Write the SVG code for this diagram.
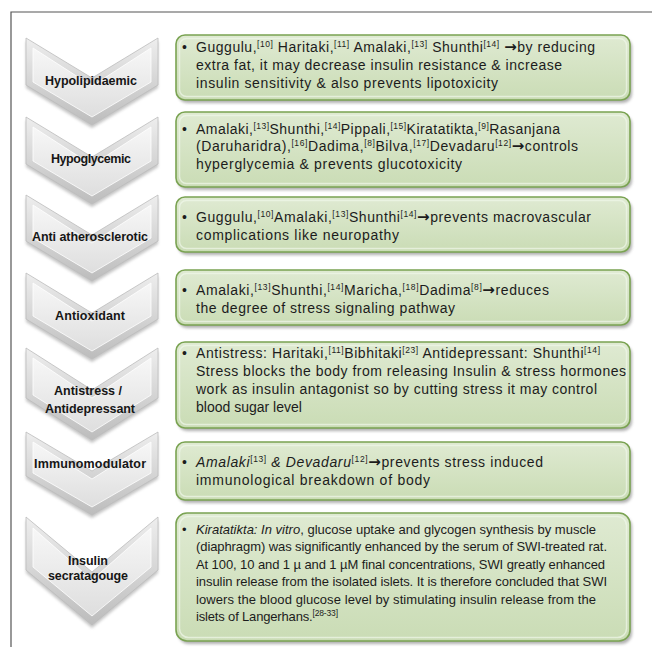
<svg xmlns="http://www.w3.org/2000/svg" width="652" height="647" viewBox="0 0 652 647">
<style>
.t{font-family:"Liberation Sans",Arial,sans-serif;font-size:14px;fill:#1c1c1c}
.t7{font-family:"Liberation Sans",Arial,sans-serif;font-size:13px;fill:#1c1c1c}
.s{font-size:8.5px}
.i{font-style:italic}
.ar{font-family:"DejaVu Sans",sans-serif;font-weight:bold;font-size:15px}
.lbl{font-family:"Liberation Sans",Arial,sans-serif;font-weight:bold;font-size:12.5px;fill:#161616;text-anchor:middle}
.chO{fill:url(#chevEdge);stroke:#bdbdbd;stroke-width:0.8}
.chI{fill:url(#chevFace);stroke:#ffffff;stroke-width:1;stroke-opacity:0.8}
.chS{fill:#8a8a8a;opacity:0.5;filter:url(#blur)}
.bx{fill:url(#boxG);stroke:#7aa352;stroke-width:1.6}
.bxI{fill:none;stroke:#f0f6e9;stroke-width:1.5;stroke-opacity:0.7}
.bxS{fill:#6f6f6f;opacity:0.55;filter:url(#blur)}
.frame{fill:none;stroke:#555;stroke-width:1.2}
</style>
<defs>
<filter id="blur" x="-10%" y="-10%" width="120%" height="130%"><feGaussianBlur stdDeviation="1.6"/></filter>
<linearGradient id="chevEdge" x1="0" y1="0" x2="0" y2="1"><stop offset="0" stop-color="#eeeeee"/><stop offset="1" stop-color="#bcbcbc"/></linearGradient>
<linearGradient id="chevFace" x1="0" y1="0" x2="0" y2="1"><stop offset="0" stop-color="#f7f7f7"/><stop offset="1" stop-color="#dedede"/></linearGradient>
<linearGradient id="boxG" x1="0" y1="0" x2="0" y2="1"><stop offset="0" stop-color="#dfead2"/><stop offset="1" stop-color="#cadcb5"/></linearGradient>
</defs>
<rect width="652" height="647" fill="#ffffff"/>
<path class="frame" d="M11,647 V12 H652"/>

<!-- chevrons -->
<g id="chev-hypolipidaemic">
<polygon class="chS" points="26,41 92,81 158,41 158,88 92,128 26,88"/>
<polygon class="chO" points="26,38 92,78 158,38 158,85 92,125 26,85"/>
<polygon class="chI" points="33,48 92,86 151,48 151,82 92,117 33,82"/>
<text class="lbl" x="91" y="85" textLength="92">Hypolipidaemic</text>
</g>
<g id="chev-hypoglycemic">
<polygon class="chS" points="26,120 92,160 158,120 158,167 92,207 26,167"/>
<polygon class="chO" points="26,117 92,157 158,117 158,164 92,204 26,164"/>
<polygon class="chI" points="33,127 92,165 151,127 151,161 92,196 33,161"/>
<text class="lbl" x="91" y="163" textLength="80">Hypoglycemic</text>
</g>
<g id="chev-antiatherosclerotic">
<polygon class="chS" points="26,198 92,238 158,198 158,244 92,284 26,244"/>
<polygon class="chO" points="26,195 92,235 158,195 158,241 92,281 26,241"/>
<polygon class="chI" points="33,205 92,243 151,205 151,238 92,273 33,238"/>
<text class="lbl" x="90" y="241" textLength="116">Anti atherosclerotic</text>
</g>
<g id="chev-antioxidant">
<polygon class="chS" points="26,276 92,316 158,276 158,322 92,362 26,322"/>
<polygon class="chO" points="26,273 92,313 158,273 158,319 92,359 26,319"/>
<polygon class="chI" points="33,283 92,321 151,283 151,316 92,351 33,316"/>
<text class="lbl" x="90" y="320" textLength="70">Antioxidant</text>
</g>
<g id="chev-antistress">
<polygon class="chS" points="26,351 92,393 158,351 158,401 92,443 26,401"/>
<polygon class="chO" points="26,348 92,390 158,348 158,398 92,440 26,398"/>
<polygon class="chI" points="33,358 92,398 151,358 151,395 92,432 33,395"/>
<text class="lbl" x="88" y="395" textLength="68">Antistress /</text>
<text class="lbl" x="90" y="413" textLength="90">Antidepressant</text>
</g>
<g id="chev-immunomodulator">
<polygon class="chS" points="26,435 92,474 158,435 158,479 92,518 26,479"/>
<polygon class="chO" points="26,432 92,471 158,432 158,476 92,515 26,476"/>
<polygon class="chI" points="33,442 92,479 151,442 151,473 92,507 33,473"/>
<text class="lbl" x="90" y="468" textLength="112">Immunomodulator</text>
</g>
<g id="chev-insulin">
<polygon class="chS" points="26,520 92,575 158,520 158,573 92,628 26,573"/>
<polygon class="chO" points="26,517 92,572 158,517 158,570 92,625 26,570"/>
<polygon class="chI" points="33,528 92,580 151,528 151,567 92,616 33,567"/>
<text class="lbl" x="88" y="565" textLength="40">Insulin</text>
<text class="lbl" x="88" y="580" textLength="80">secratagouge</text>
</g>

<!-- boxes -->
<g id="box-hypolipidaemic">
<rect class="bxS" x="178" y="38" width="454" height="65" rx="9"/>
<rect class="bx" x="176" y="35" width="454" height="65" rx="9"/>
<rect class="bxI" x="179.5" y="38.5" width="447" height="58" rx="7"/>
<text class="t" x="182" y="52">•</text>
<text class="t" x="196" y="52" textLength="399">Guggulu,<tspan class="s" dy="-5">[10]</tspan><tspan dy="5"> Haritaki,</tspan><tspan class="s" dy="-5">[11]</tspan><tspan dy="5"> Amalaki,</tspan><tspan class="s" dy="-5">[13]</tspan><tspan dy="5"> Shunthi</tspan><tspan class="s" dy="-5">[14]</tspan><tspan dy="5"> </tspan><tspan class="ar">→</tspan>by reducing</text>
<text class="t" x="196" y="69.5" textLength="366">extra fat, it may decrease insulin resistance &amp; increase</text>
<text class="t" x="196" y="87.5" textLength="302">insulin sensitivity &amp; also prevents lipotoxicity</text>
</g>
<g id="box-hypoglycemic">
<rect class="bxS" x="178" y="115" width="454" height="75" rx="9"/>
<rect class="bx" x="176" y="112" width="454" height="75" rx="9"/>
<rect class="bxI" x="179.5" y="115.5" width="447" height="68" rx="7"/>
<text class="t" x="182" y="133.5">•</text>
<text class="t" x="196" y="133.5" textLength="364">Amalaki,<tspan class="s" dy="-5">[13]</tspan><tspan dy="5">Shunthi,</tspan><tspan class="s" dy="-5">[14]</tspan><tspan dy="5">Pippali,</tspan><tspan class="s" dy="-5">[15]</tspan><tspan dy="5">Kiratatikta,</tspan><tspan class="s" dy="-5">[9]</tspan><tspan dy="5">Rasanjana</tspan></text>
<text class="t" x="196" y="151" textLength="382">(Daruharidra),<tspan class="s" dy="-5">[16]</tspan><tspan dy="5">Dadima,</tspan><tspan class="s" dy="-5">[8]</tspan><tspan dy="5">Bilva,</tspan><tspan class="s" dy="-5">[17]</tspan><tspan dy="5">Devadaru</tspan><tspan class="s" dy="-5">[12]</tspan><tspan class="ar" dy="5">→</tspan>controls</text>
<text class="t" x="196" y="168.5" textLength="266">hyperglycemia &amp; prevents glucotoxicity</text>
</g>
<g id="box-antiatherosclerotic">
<rect class="bxS" x="178" y="200" width="454" height="55" rx="9"/>
<rect class="bx" x="176" y="197" width="454" height="55" rx="9"/>
<rect class="bxI" x="179.5" y="200.5" width="447" height="48" rx="7"/>
<text class="t" x="182" y="222">•</text>
<text class="t" x="196" y="222" textLength="395">Guggulu,<tspan class="s" dy="-5">[10]</tspan><tspan dy="5">Amalaki,</tspan><tspan class="s" dy="-5">[13]</tspan><tspan dy="5">Shunthi</tspan><tspan class="s" dy="-5">[14]</tspan><tspan class="ar" dy="5">→</tspan>prevents macrovascular</text>
<text class="t" x="196" y="240" textLength="203">complications like neuropathy</text>
</g>
<g id="box-antioxidant">
<rect class="bxS" x="178" y="273" width="454" height="55" rx="9"/>
<rect class="bx" x="176" y="270" width="454" height="55" rx="9"/>
<rect class="bxI" x="179.5" y="273.5" width="447" height="48" rx="7"/>
<text class="t" x="182" y="295">•</text>
<text class="t" x="196" y="295" textLength="353">Amalaki,<tspan class="s" dy="-5">[13]</tspan><tspan dy="5">Shunthi,</tspan><tspan class="s" dy="-5">[14]</tspan><tspan dy="5">Maricha,</tspan><tspan class="s" dy="-5">[18]</tspan><tspan dy="5">Dadima</tspan><tspan class="s" dy="-5">[8]</tspan><tspan class="ar" dy="5">→</tspan>reduces</text>
<text class="t" x="196" y="313" textLength="259">the degree of stress signaling pathway</text>
</g>
<g id="box-antistress">
<rect class="bxS" x="178" y="345" width="454" height="86" rx="9"/>
<rect class="bx" x="176" y="342" width="454" height="86" rx="9"/>
<rect class="bxI" x="179.5" y="345.5" width="447" height="79" rx="7"/>
<text class="t" x="182" y="358">•</text>
<text class="t" x="196" y="358" textLength="404">Antistress: Haritaki,<tspan class="s" dy="-5">[11]</tspan><tspan dy="5">Bibhitaki</tspan><tspan class="s" dy="-5">[23]</tspan><tspan dy="5"> Antidepressant: Shunthi</tspan><tspan class="s" dy="-5">[14]</tspan></text>
<text class="t" x="196" y="376" textLength="430">Stress blocks the body from releasing Insulin &amp; stress hormones</text>
<text class="t" x="196" y="394" textLength="401">work as insulin antagonist so by cutting stress it may control</text>
<text class="t" x="196" y="412">blood sugar level</text>
</g>
<g id="box-immunomodulator">
<rect class="bxS" x="178" y="445" width="454" height="58" rx="9"/>
<rect class="bx" x="176" y="442" width="454" height="58" rx="9"/>
<rect class="bxI" x="179.5" y="445.5" width="447" height="51" rx="7"/>
<text class="t" x="182" y="466.5">•</text>
<text class="t" x="196" y="466.5" textLength="347"><tspan class="i">Amalaki</tspan><tspan class="s" dy="-5">[13]</tspan><tspan class="i" dy="5"> &amp; Devadaru</tspan><tspan class="s" dy="-5">[12]</tspan><tspan class="ar" dy="5">→</tspan>prevents stress induced</text>
<text class="t" x="196" y="484.5" textLength="234">immunological breakdown of body</text>
</g>
<g id="box-insulin">
<rect class="bxS" x="178" y="516" width="454" height="128" rx="11"/>
<rect class="bx" x="176" y="513" width="454" height="128" rx="11"/>
<rect class="bxI" x="179.5" y="516.5" width="447" height="121" rx="9"/>
<text class="t7" x="182" y="533.5">•</text>
<text class="t7" x="196" y="533.5" textLength="400"><tspan class="i">Kiratatikta: In vitro</tspan>, glucose uptake and glycogen synthesis by muscle</text>
<text class="t7" x="196" y="551" textLength="411">(diaphragm) was significantly enhanced by the serum of SWI-treated rat.</text>
<text class="t7" x="196" y="568.5" textLength="409">At 100, 10 and 1 µ and 1 µM final concentrations, SWI greatly enhanced</text>
<text class="t7" x="196" y="586" textLength="411">insulin release from the isolated islets. It is therefore concluded that SWI</text>
<text class="t7" x="196" y="603.5" textLength="400">lowers the blood glucose level by stimulating insulin release from the</text>
<text class="t7" x="196" y="621" textLength="142">islets of Langerhans.<tspan class="s" dy="-5">[28-33]</tspan></text>
</g>
</svg>
